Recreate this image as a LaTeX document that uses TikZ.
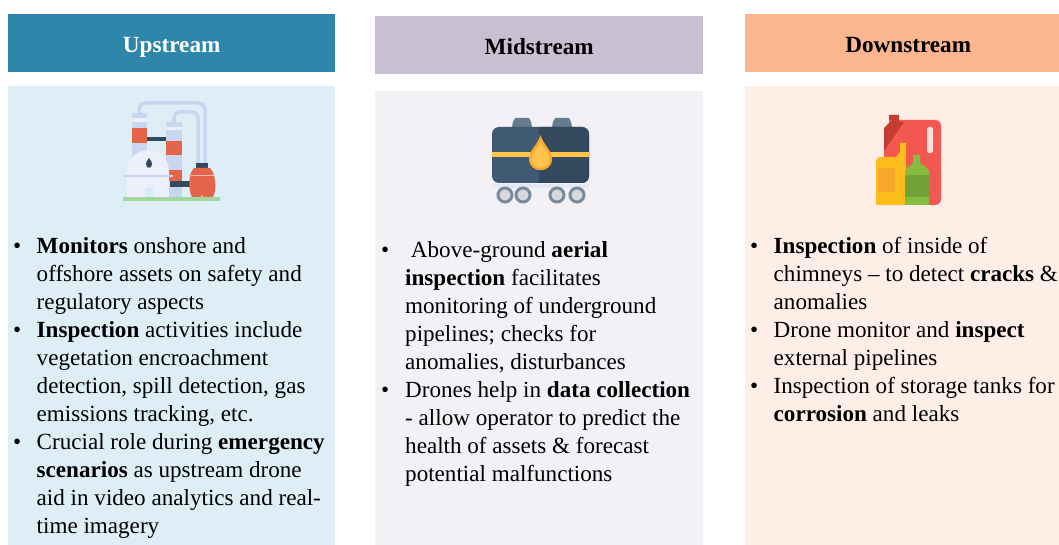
\documentclass[tikz,border=0pt]{standalone}
\usepackage{fontspec}
\setmainfont{Liberation Serif}
\usetikzlibrary{calc}
\definecolor{upH}{HTML}{2E86AB}
\definecolor{upB}{HTML}{DEEEF6}
\definecolor{midH}{HTML}{C9BFD3}
\definecolor{midB}{HTML}{F3F1F6}
\definecolor{downH}{HTML}{FBB690}
\definecolor{downB}{HTML}{FEEEE6}
\definecolor{pale}{HTML}{C9D6F0}
\definecolor{palew}{HTML}{EDF0FA}
\definecolor{redI}{HTML}{E5654A}
\definecolor{navyI}{HTML}{34495E}
\definecolor{navyL}{HTML}{3F5A73}
\definecolor{yelI}{HTML}{FFC44D}
\definecolor{redB}{HTML}{F2584F}
\definecolor{redD}{HTML}{C43C32}
\definecolor{amber}{HTML}{FDBE1C}
\definecolor{amberD}{HTML}{F9A72B}
\definecolor{greenI}{HTML}{86BC3F}
\definecolor{greenD}{HTML}{73A23A}
\definecolor{grass}{HTML}{A4D6A0}
\definecolor{door}{HTML}{D5EBF7}
\tikzset{
  header/.style={anchor=north west,inner sep=0pt,minimum height=58pt,text height=20pt,text depth=2pt,font=\fontsize{23.2}{26}\selectfont\bfseries},
  panel/.style={anchor=north west,inner sep=0pt},
  body/.style={anchor=north west,inner sep=0pt,align=left,font=\fontsize{23.1}{28}\selectfont},
  bul/.style={anchor=north west,inner sep=0pt,align=left,font=\fontsize{23.1}{28}\selectfont},
}
\begin{document}
\begin{tikzpicture}[x=1pt,y=-1pt]
\useasboundingbox (0,0) rectangle (1059,545);
% panels
\node[panel,fill=upB,minimum width=327pt,minimum height=459pt] (p1) at (8,86) {};
\node[panel,fill=midB,minimum width=328pt,minimum height=454pt] (p2) at (375,91) {};
\node[panel,fill=downB,minimum width=314pt,minimum height=459pt] (p3) at (745,86) {};
% headers
\node[header,fill=upH,text=white,minimum width=327pt] (h1) at (8,14) {Upstream};
\node[header,fill=midH,text=black,minimum width=328pt] (h2) at (375,16) {Midstream};
\node[header,fill=downH,text=black,minimum width=314pt] (h3) at (745,14) {\hspace*{12pt}Downstream};
% refinery icon
\draw[pale,line width=3.5pt,rounded corners=7pt] (139,115) -- (139,103) -- (205,103) -- (205,165);
\draw[pale,line width=3.5pt,rounded corners=6pt] (174,125) -- (174,112) -- (198,112) -- (198,165);
\fill[pale] (132,113) rectangle (147,160);
\fill[palew] (132,118) rectangle (147,122);
\fill[redI] (132,128) rectangle (147,143);
\fill[pale] (166,122) rectangle (182,197);
\fill[palew] (166,127) rectangle (182,130);
\fill[redI] (166,141) rectangle (182,155);
\fill[redI] (166,170) rectangle (182,181);
\fill[navyI] (147,137) rectangle (166,141);
\fill[navyI] (170,181) rectangle (190,187);
\fill[palew] (127,197) -- (127,171) .. controls (127,159) and (137,150) .. (148,150) .. controls (159,150) and (169,159) .. (169,171) -- (169,197) -- cycle;
\fill[pale] (124,175) rectangle (173,177);
\fill[door] (145,188) rectangle (153,197);
\fill[navyI] (149,158) .. controls (151,161) and (152,162) .. (152,164) .. controls (152,169) and (146,169) .. (146,164) .. controls (146,162) and (147,161) .. (149,158) -- cycle;
\fill[navyI] (196,163) rectangle (208,169);
\fill[redI] (194,168) -- (210,168) .. controls (216,174) and (217,190) .. (213,197) -- (203,197) -- (202,194) -- (201,197) -- (192,197) .. controls (188,190) and (188,174) .. (194,168) -- cycle;
\fill[white!55!redI] (191,175) rectangle (214,176.5);
\fill[grass] (123,197) rectangle (220,201);
% tanker icon
\fill[navyL!80!white] (512,127) -- (513,122) -- (515,118) -- (529,118) -- (531,122) -- (532,127) -- cycle;
\fill[navyL!80!white] (552,127) -- (553,122) -- (555,118) -- (569,118) -- (571,122) -- (572,127) -- cycle;
\fill[pale!35!midB] (492,184) rectangle (589,188);
\fill[navyL,rounded corners=7pt] (492,127) rectangle (589,183);
\begin{scope}
\clip[rounded corners=7pt] (492,127) rectangle (589,183);
\fill[navyI] (539,120) rectangle (595,190);
\end{scope}
\fill[yelI] (492,152) rectangle (589,157);
\fill[amberD] (540.5,135) .. controls (544,146) and (552,150) .. (552,159) .. controls (552,174) and (529,174) .. (529,159) .. controls (529,150) and (537,146) .. (540.5,135) -- cycle;
\fill[yelI] (540.5,141) .. controls (543,149) and (549.5,152) .. (549.5,159) .. controls (549.5,171) and (531.5,171) .. (531.5,159) .. controls (531.5,152) and (538,149) .. (540.5,141) -- cycle;
\foreach \cx in {505,523,557,577}{
  \filldraw[fill=gray!30,draw=navyL!70!white,line width=3pt] (\cx,195) circle[radius=7pt];
}
% bottles icon
\fill[redB] (889,115) rectangle (899,125);
\fill[redB,rounded corners=6pt] (905,205) -- (884,205) -- (884,128) -- (892,120) -- (941,120) -- (941,205) -- cycle;
\fill[redD] (884,151) -- (884,128) -- (892,120) -- (889,120) -- (889,115) -- (899,115) -- (899,122) -- (904,122) -- cycle;
\fill[white!80!redB,rounded corners=2pt] (927,127) rectangle (933,153);
\fill[amber] (876,205) -- (876,160) -- (879,157) -- (896,157) -- (900,152) -- (900,143) -- (906,143) -- (906,205) -- cycle;
\fill[amberD] (878,168) rectangle (895,192);
\fill[greenI] (905,205) -- (905,172) .. controls (905,167) and (913,165) .. (913,162) -- (913,155) -- (920,155) -- (920,162) .. controls (920,165) and (929,167) .. (929,172) -- (929,205) -- cycle;
\fill[greenD] (905,175) rectangle (929,197);
% upstream text
\node[bul] (b11) at (13,234) {\strut•};
\node[body] (t11) at (36.5,234) {\strut\textbf{Monitors} onshore and\\offshore assets on safety and\\regulatory aspects};
\node[bul] (b12) at (13,318) {\strut•};
\node[body] (t12) at (36.5,318) {\strut\textbf{Inspection} activities include\\vegetation encroachment\\detection, spill detection, gas\\emissions tracking, etc.};
\node[bul] (b13) at (13,430) {\strut•};
\node[body] (t13) at (36.5,430) {\strut Crucial role during \textbf{emergency}\\\textbf{scenarios} as upstream drone\\aid in video analytics and real-\\time imagery};
% midstream text
\node[bul] (b21) at (381,238) {\strut•};
\node[body] (t21) at (405,238) {\strut\ Above-ground \textbf{aerial}\\\textbf{inspection} facilitates\\monitoring of underground\\pipelines; checks for\\anomalies, disturbances};
\node[bul] (b22) at (381,378) {\strut•};
\node[body] (t22) at (405,378) {\strut Drones help in \textbf{data collection}\\- allow operator to predict the\\health of assets \& forecast\\potential malfunctions};
% downstream text
\node[bul] (b31) at (750,234) {\strut•};
\node[body] (t31) at (773.5,234) {\strut\textbf{Inspection} of inside of\\chimneys – to detect \textbf{cracks} \&\\anomalies};
\node[bul] (b32) at (750,318) {\strut•};
\node[body] (t32) at (773.5,318) {\strut Drone monitor and \textbf{inspect}\\external pipelines};
\node[bul] (b33) at (750,374) {\strut•};
\node[body] (t33) at (773.5,374) {\strut Inspection of storage tanks for\\\textbf{corrosion} and leaks};
\end{tikzpicture}
\end{document}
